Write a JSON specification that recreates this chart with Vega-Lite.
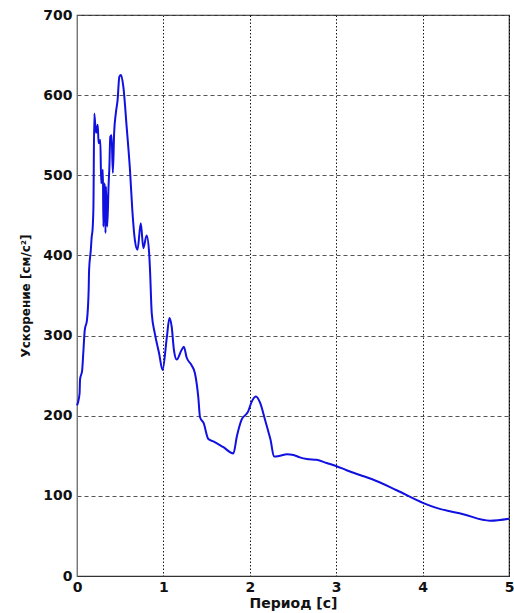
{
  "$schema": "https://vega.github.io/schema/vega-lite/v6.json",
  "width": 432,
  "height": 561,
  "autosize": {"type": "none"},
  "padding": {"left": 77, "top": 15, "right": 5, "bottom": 37},
  "background": "white",
  "config": {
    "view": {"stroke": "#333333", "strokeWidth": 1.2},
    "font": "DejaVu Sans"
  },
  "data": {
    "values": [
      {"period": 0.00, "acc": 213}, {"period": 0.01, "acc": 216}, {"period": 0.03, "acc": 228},
      {"period": 0.035, "acc": 245}, {"period": 0.06, "acc": 257}, {"period": 0.07, "acc": 273},
      {"period": 0.09, "acc": 307}, {"period": 0.115, "acc": 319}, {"period": 0.135, "acc": 357},
      {"period": 0.14, "acc": 382}, {"period": 0.16, "acc": 407}, {"period": 0.17, "acc": 423},
      {"period": 0.18, "acc": 432}, {"period": 0.19, "acc": 460}, {"period": 0.20, "acc": 577},
      {"period": 0.22, "acc": 553}, {"period": 0.24, "acc": 563}, {"period": 0.25, "acc": 540},
      {"period": 0.27, "acc": 544}, {"period": 0.28, "acc": 490}, {"period": 0.30, "acc": 507},
      {"period": 0.305, "acc": 436}, {"period": 0.32, "acc": 490}, {"period": 0.33, "acc": 428},
      {"period": 0.335, "acc": 486}, {"period": 0.35, "acc": 436}, {"period": 0.365, "acc": 486},
      {"period": 0.375, "acc": 511}, {"period": 0.385, "acc": 548}, {"period": 0.40, "acc": 550},
      {"period": 0.415, "acc": 503}, {"period": 0.43, "acc": 553}, {"period": 0.45, "acc": 578},
      {"period": 0.47, "acc": 594}, {"period": 0.49, "acc": 623}, {"period": 0.51, "acc": 625},
      {"period": 0.537, "acc": 610}, {"period": 0.575, "acc": 560}, {"period": 0.613, "acc": 507},
      {"period": 0.64, "acc": 457}, {"period": 0.67, "acc": 419}, {"period": 0.70, "acc": 407},
      {"period": 0.738, "acc": 440}, {"period": 0.768, "acc": 409}, {"period": 0.806, "acc": 425},
      {"period": 0.835, "acc": 403}, {"period": 0.845, "acc": 382}, {"period": 0.865, "acc": 328},
      {"period": 0.90, "acc": 303}, {"period": 0.95, "acc": 278}, {"period": 0.99, "acc": 257},
      {"period": 1.04, "acc": 298}, {"period": 1.07, "acc": 322}, {"period": 1.096, "acc": 311},
      {"period": 1.122, "acc": 282}, {"period": 1.154, "acc": 270}, {"period": 1.21, "acc": 282},
      {"period": 1.237, "acc": 286}, {"period": 1.268, "acc": 273}, {"period": 1.326, "acc": 263},
      {"period": 1.365, "acc": 253}, {"period": 1.404, "acc": 223}, {"period": 1.424, "acc": 198},
      {"period": 1.465, "acc": 191}, {"period": 1.52, "acc": 171}, {"period": 1.578, "acc": 168},
      {"period": 1.69, "acc": 161}, {"period": 1.81, "acc": 153}, {"period": 1.85, "acc": 174},
      {"period": 1.905, "acc": 195}, {"period": 1.98, "acc": 205}, {"period": 2.02, "acc": 217},
      {"period": 2.07, "acc": 224}, {"period": 2.12, "acc": 216}, {"period": 2.176, "acc": 195},
      {"period": 2.215, "acc": 180}, {"period": 2.24, "acc": 170}, {"period": 2.28, "acc": 149},
      {"period": 2.35, "acc": 150}, {"period": 2.43, "acc": 152}, {"period": 2.505, "acc": 151},
      {"period": 2.58, "acc": 148}, {"period": 2.66, "acc": 146}, {"period": 2.775, "acc": 145},
      {"period": 2.89, "acc": 141}, {"period": 3.005, "acc": 137}, {"period": 3.12, "acc": 132},
      {"period": 3.275, "acc": 126}, {"period": 3.41, "acc": 121}, {"period": 3.70, "acc": 107},
      {"period": 4.01, "acc": 91}, {"period": 4.16, "acc": 85}, {"period": 4.47, "acc": 77},
      {"period": 4.78, "acc": 69}, {"period": 5.00, "acc": 71.5}
    ]
  },
  "mark": {"type": "line", "color": "#1010e0", "strokeWidth": 2, "interpolate": "monotone"},
  "encoding": {
    "x": {
      "field": "period",
      "type": "quantitative",
      "scale": {"domain": [0, 5], "nice": false},
      "axis": {
        "values": [0, 1, 2, 3, 4, 5],
        "format": "d",
        "title": "Период [с]",
        "titleFont": "DejaVu Sans",
        "titleFontSize": 14,
        "titleFontWeight": "bold",
        "titleColor": "#111111",
        "titlePadding": 2,
        "labelFont": "DejaVu Sans",
        "labelFontSize": 14,
        "labelFontWeight": "bold",
        "labelColor": "#111111",
        "labelPadding": 4,
        "labelFlush": false,
        "tickSize": 0,
        "domainColor": "#333333",
        "gridColor": "#000000",
        "gridDash": [1.5, 2],
        "gridWidth": 1,
        "gridOpacity": 0.9
      }
    },
    "y": {
      "field": "acc",
      "type": "quantitative",
      "scale": {"domain": [0, 700], "nice": false},
      "axis": {
        "values": [0, 100, 200, 300, 400, 500, 600, 700],
        "title": "Ускорение [см/с²]",
        "titleFont": "DejaVu Sans",
        "titleFontSize": 12,
        "titleFontWeight": "bold",
        "titleColor": "#111111",
        "titlePadding": 10,
        "labelFont": "DejaVu Sans",
        "labelFontSize": 14,
        "labelFontWeight": "bold",
        "labelColor": "#111111",
        "labelPadding": 5,
        "tickSize": 0,
        "domainColor": "#777777",
        "gridColor": "#555555",
        "gridDash": [4, 3],
        "gridWidth": 1
      }
    }
  }
}
